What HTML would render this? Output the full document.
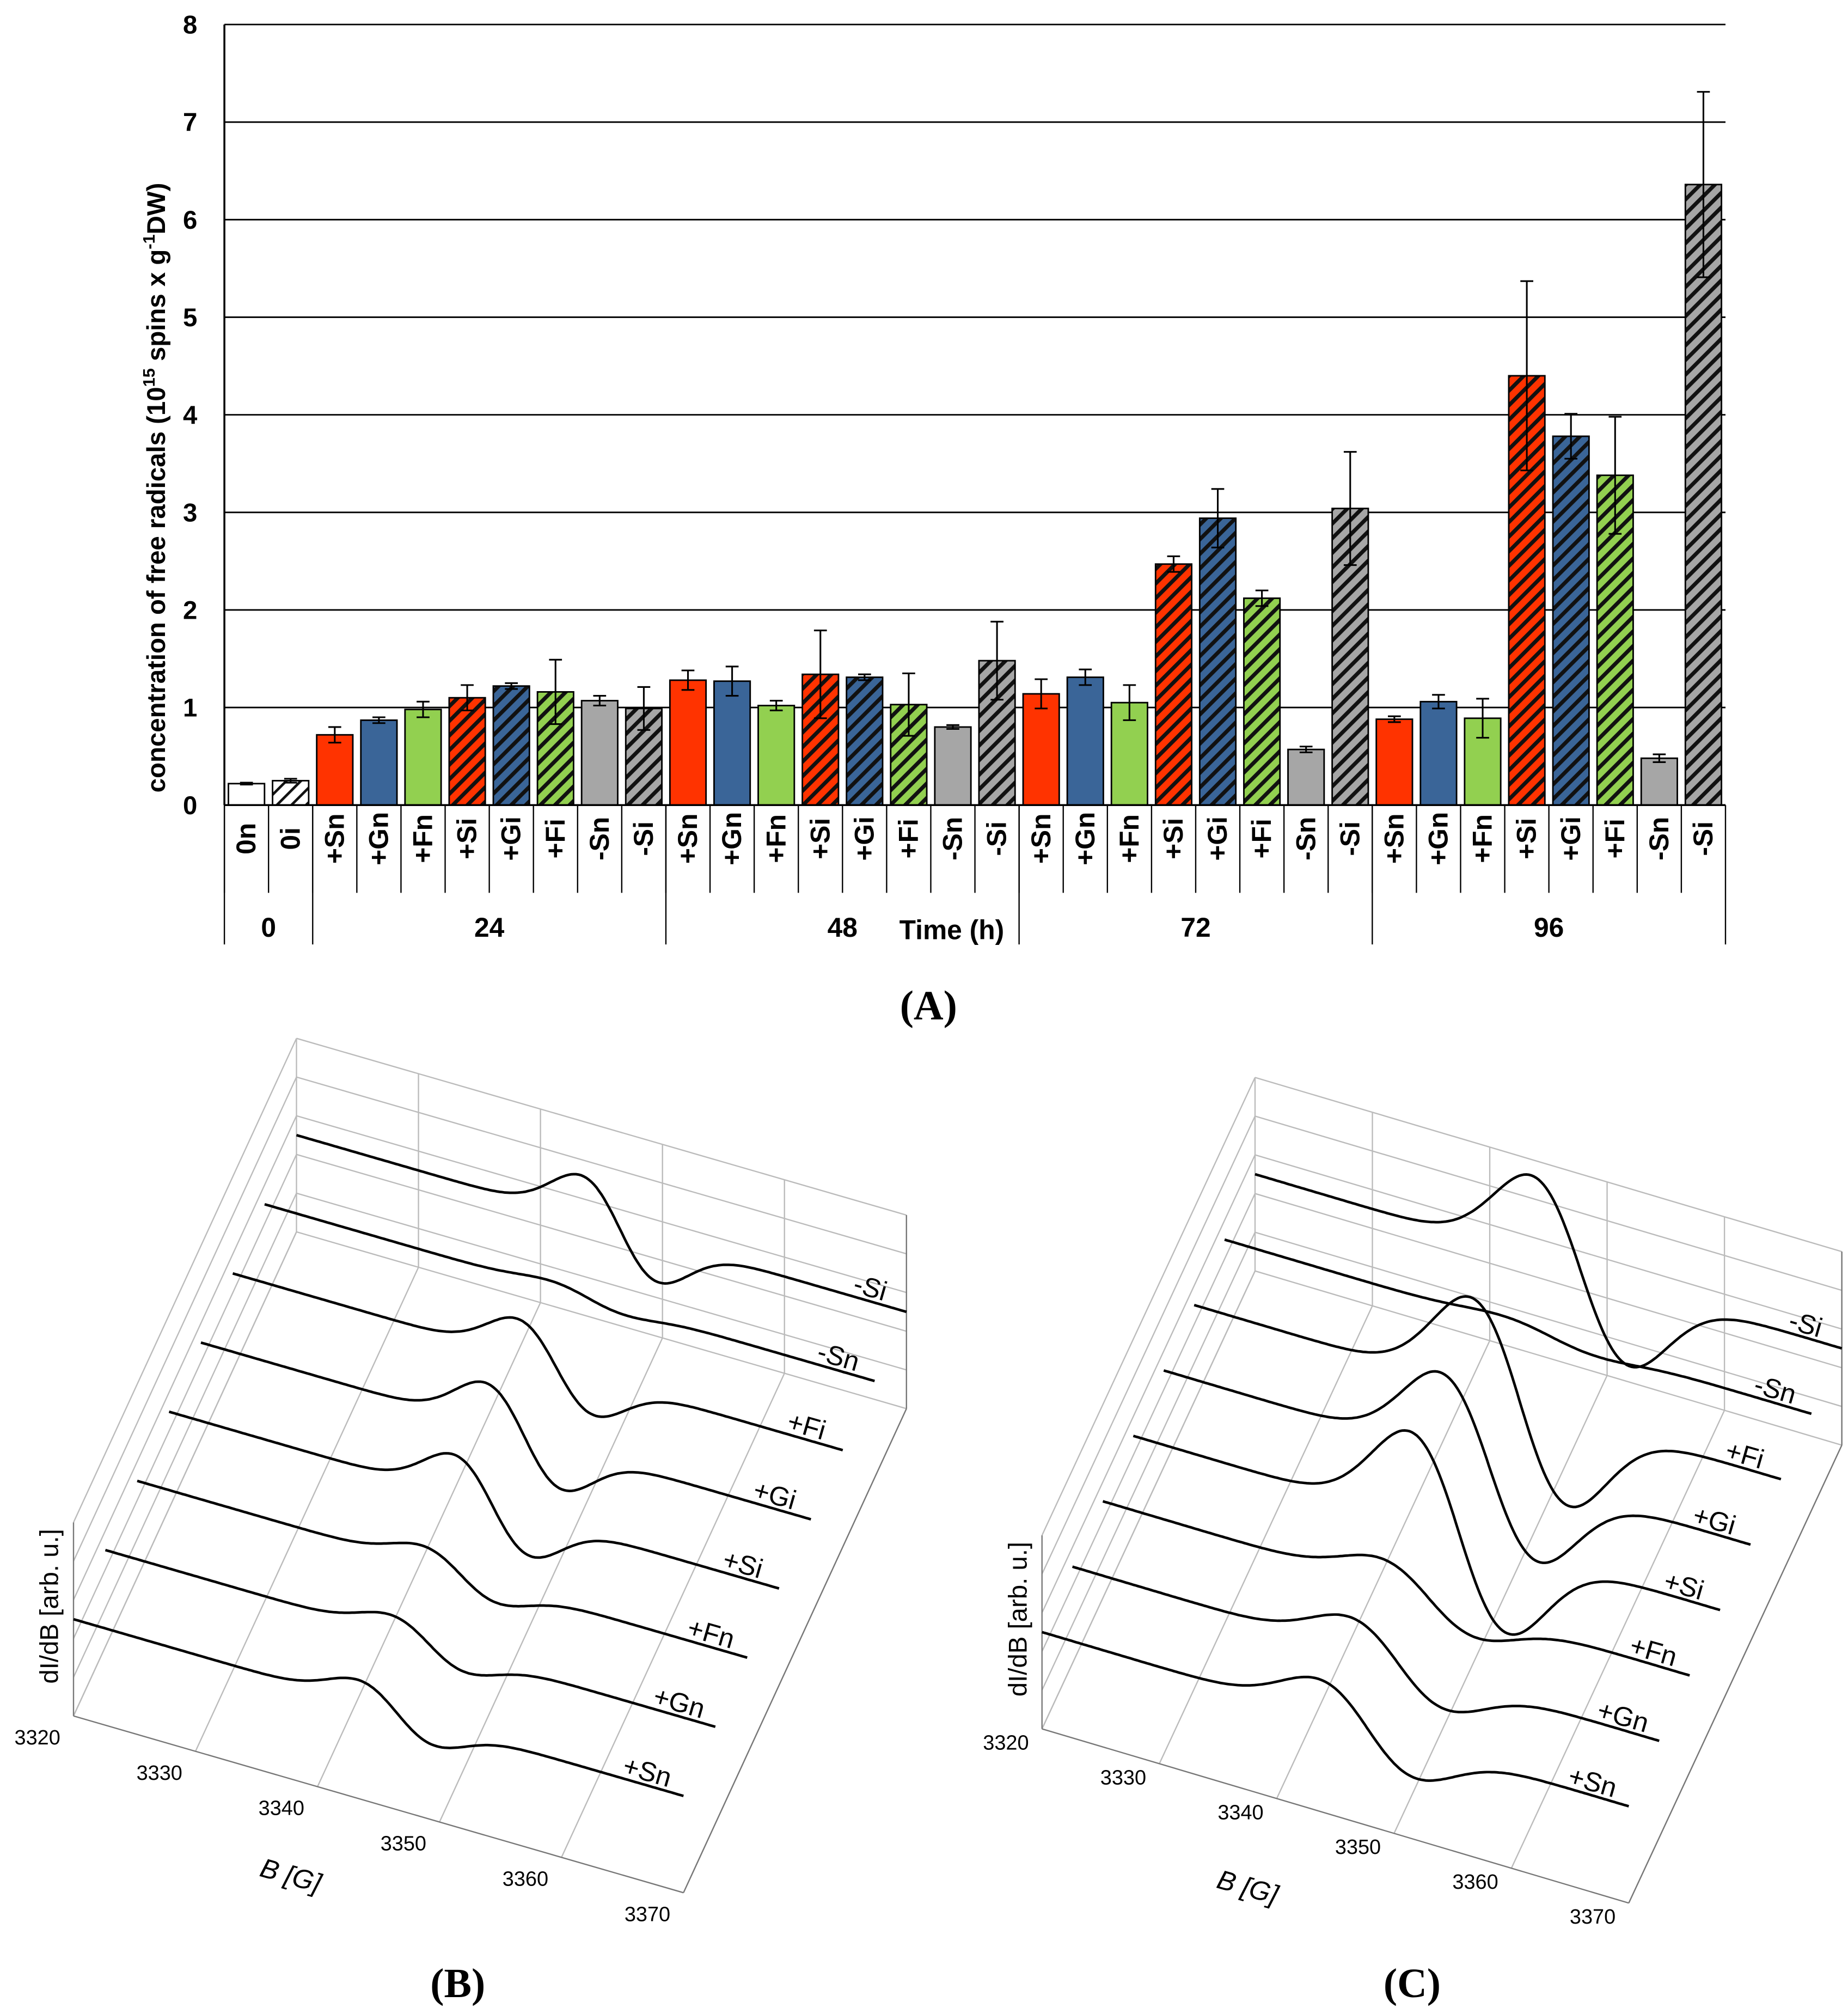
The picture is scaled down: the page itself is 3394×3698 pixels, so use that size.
<!DOCTYPE html>
<html><head><meta charset="utf-8">
<style>
html,body{margin:0;padding:0;background:#fff;}
svg{display:block;}
text{font-family:"Liberation Sans",sans-serif;}
</style></head>
<body>
<svg id="fig" width="3394" height="3698" viewBox="0 0 1433 1561" preserveAspectRatio="none" xmlns="http://www.w3.org/2000/svg">
<defs>
<pattern id="hr" patternUnits="userSpaceOnUse" width="8" height="8" patternTransform="rotate(45)"><rect width="8" height="8" fill="#ff3300"/><rect x="0" width="3" height="8" fill="#111"/></pattern>
<pattern id="hb" patternUnits="userSpaceOnUse" width="8" height="8" patternTransform="rotate(45)"><rect width="8" height="8" fill="#3a6598"/><rect x="0" width="3" height="8" fill="#111"/></pattern>
<pattern id="hg" patternUnits="userSpaceOnUse" width="8" height="8" patternTransform="rotate(45)"><rect width="8" height="8" fill="#92d050"/><rect x="0" width="3" height="8" fill="#111"/></pattern>
<pattern id="hy" patternUnits="userSpaceOnUse" width="8" height="8" patternTransform="rotate(45)"><rect width="8" height="8" fill="#a6a6a6"/><rect x="0" width="3" height="8" fill="#111"/></pattern>
<pattern id="hw" patternUnits="userSpaceOnUse" width="8" height="8" patternTransform="rotate(45)"><rect width="8" height="8" fill="#fff"/><rect x="0" width="2" height="8" fill="#111"/></pattern>
</defs>
<g id="chartA"></g>
<g id="chartB"></g>
<g id="chartC"></g>
<text x="720" y="790" text-anchor="middle" font-size="32" font-weight="bold" style="font-family:'Liberation Serif',serif">(A)</text>
<text x="355" y="1548" text-anchor="middle" font-size="32" font-weight="bold" style="font-family:'Liberation Serif',serif">(B)</text>
<text x="1095" y="1548" text-anchor="middle" font-size="32" font-weight="bold" style="font-family:'Liberation Serif',serif">(C)</text>
</svg>
<script>
// ---- Chart A data ----
const categories = ["0n","0i","+Sn","+Gn","+Fn","+Si","+Gi","+Fi","-Sn","-Si","+Sn","+Gn","+Fn","+Si","+Gi","+Fi","-Sn","-Si","+Sn","+Gn","+Fn","+Si","+Gi","+Fi","-Sn","-Si","+Sn","+Gn","+Fn","+Si","+Gi","+Fi","-Sn","-Si"];
const values = [0.22,0.25, 0.72,0.87,0.98,1.1,1.22,1.16,1.07,0.99, 1.28,1.27,1.02,1.34,1.31,1.03,0.80,1.48, 1.14,1.31,1.05,2.47,2.94,2.12,0.57,3.04, 0.88,1.06,0.89,4.40,3.78,3.38,0.48,6.36];
const errors = [0.01,0.02, 0.08,0.03,0.08,0.13,0.03,0.33,0.05,0.22, 0.10,0.15,0.05,0.45,0.03,0.32,0.02,0.40, 0.15,0.08,0.18,0.08,0.30,0.08,0.03,0.58, 0.03,0.07,0.20,0.97,0.23,0.60,0.04,0.95];
const groupLabels = ["0","24","48","72","96"];
const groupSizes = [2,8,8,8,8];
const yTicks = [0,1,2,3,4,5,6,7,8];
// ---- EPR traces (amplitudes, px) ----
const seriesNames = ["+Sn","+Gn","+Fn","+Si","+Gi","+Fi","-Sn","-Si"];
const ampB = [34,28,28,62,66,58,10,66];
const ampC = [55,50,40,135,125,140,10,126];
const bTicks = [3320,3330,3340,3350,3360,3370];

const NS="http://www.w3.org/2000/svg";
function mk(p,tag,attrs,txt){const e=document.createElementNS(NS,tag);for(const k in attrs)e.setAttribute(k,attrs[k]);if(txt!==undefined)e.textContent=txt;p.appendChild(e);return e;}

// Chart A
const A=document.getElementById('chartA');
const x0=174,x1=1338,yb=624,yt=19;
const ymax=8;
const yS=v=>yb-(yb-yt)*v/ymax;
const slot=(x1-x0)/categories.length;
const xc=i=>x0+slot*(i+0.5);
yTicks.forEach(t=>{
  const l=mk(A,'line',{x1:x0,x2:x1,y1:yS(t),y2:yS(t),stroke:'#000','stroke-width':1.2});
  
  
  const tx=mk(A,'text',{x:153,y:yS(t)+7,'text-anchor':'end','font-size':20,'font-weight':'bold'},t);
  
  
});
mk(A,'line',{x1:x0,x2:x0,y1:yt,y2:yb,stroke:'#000','stroke-width':1.5});
const yl=mk(A,'text',{transform:'translate(128,378) rotate(-90)','text-anchor':'middle','font-size':20,'font-weight':'bold'});


yl.innerHTML='concentration of free radicals (10<tspan dy="-8" font-size="13">15</tspan><tspan dy="8"> spins x g</tspan><tspan dy="-8" font-size="13">-1</tspan><tspan dy="8">DW)</tspan>';
categories.forEach((c,i)=>{
  let fill;
  if(i<2) fill = c.endsWith('i')?'url(#hw)':'#fff';
  else {
    const L=c[1]; fill = c.endsWith('i')?(L==='S'?'url(#hr)':L==='G'?'url(#hb)':'url(#hg)'):(L==='S'?'#ff3300':L==='G'?'#3a6598':'#92d050');
    if(c[0]==='-') fill=c.endsWith('i')?'url(#hy)':'#a6a6a6'; }
  const w=28;
  const r=mk(A,'rect',{x:xc(i)-w/2,y:yS(values[i]),width:w,height:yb-yS(values[i]),fill:fill,stroke:'#000','stroke-width':1.2});
  
  
  const ex=xc(i);
  const e=mk(A,'path',{d:`M${ex},${yS(values[i]+errors[i])}V${yS(values[i]-errors[i])}M${ex-5},${yS(values[i]+errors[i])}H${ex+5}M${ex-5},${yS(values[i]-errors[i])}H${ex+5}`,stroke:'#000','stroke-width':1.3,fill:'none'});
  
  
  const t=mk(A,'text',{transform:`translate(${ex+7},${650}) rotate(-90)`,'text-anchor':'middle','font-size':21,'font-weight':'bold'},c);
  
  
  mk(A,'line',{x1:x0+slot*i,x2:x0+slot*i,y1:yb,y2:692,stroke:'#000','stroke-width':1});
});
mk(A,'line',{x1:x1,x2:x1,y1:yb,y2:732,stroke:'#000','stroke-width':1});
mk(A,'line',{x1:x0,x2:x1,y1:yb,y2:yb,stroke:'#000','stroke-width':1.5});
let acc=0;
groupLabels.forEach((g,k)=>{
  const xs=x0+slot*acc; acc+=groupSizes[k]; const xe=x0+slot*acc;
  mk(A,'line',{x1:xs,x2:xs,y1:yb,y2:732,stroke:'#000','stroke-width':1});
  const t=mk(A,'text',{x:(xs+xe)/2,y:726,'text-anchor':'middle','font-size':21,'font-weight':'bold'},g);
  
  
});
const tl=mk(A,'text',{x:738,y:728,'text-anchor':'middle','font-size':21,'font-weight':'bold'},'Time (h)');



// EPR panels
function panel(G,amps,cfg){
  const {s0,step,dir,wallH,center,width}=cfg;
  const st='#bbb';
  const n=amps.length;
  const back=[s0[0]+step[0]*(n-1)+cfg.bOff[0], s0[1]+step[1]*(n-1)+cfg.bOff[1]];
  const front=[s0[0]+cfg.fOff[0], s0[1]+cfg.fOff[1]];
  const FL=front, BL=back, FR=[FL[0]+dir[0],FL[1]+dir[1]], BR=[BL[0]+dir[0],BL[1]+dir[1]];
  for(let k=0;k<=5;k++){const f=k/5;
    mk(G,'line',{x1:BL[0]+dir[0]*f,y1:BL[1]+dir[1]*f,x2:BL[0]+dir[0]*f,y2:BL[1]+dir[1]*f-wallH,stroke:st,'stroke-width':1});
    mk(G,'line',{x1:FL[0]+dir[0]*f,y1:FL[1]+dir[1]*f,x2:BL[0]+dir[0]*f,y2:BL[1]+dir[1]*f,stroke:st,'stroke-width':1});
  }
  for(let k=0;k<=5;k++){const h=wallH*k/5;
    mk(G,'line',{x1:BL[0],y1:BL[1]-h,x2:BR[0],y2:BR[1]-h,stroke:st,'stroke-width':1});
    mk(G,'line',{x1:BL[0],y1:BL[1]-h,x2:FL[0],y2:FL[1]-h,stroke:st,'stroke-width':1});
  }
  mk(G,'line',{x1:FL[0],y1:FL[1],x2:FL[0],y2:FL[1]-wallH,stroke:'#777','stroke-width':1});
  mk(G,'line',{x1:FR[0],y1:FR[1],x2:BR[0],y2:BR[1],stroke:'#777','stroke-width':1});
  mk(G,'line',{x1:BR[0],y1:BR[1],x2:BR[0],y2:BR[1]-wallH,stroke:'#777','stroke-width':1});
  mk(G,'line',{x1:FL[0],y1:FL[1],x2:FR[0],y2:FR[1],stroke:'#777','stroke-width':1});
  bTicks.forEach((b,k)=>{const f=(b-bTicks[0])/(bTicks[bTicks.length-1]-bTicks[0]);
    const t=mk(G,'text',{x:FL[0]+dir[0]*f-28,y:FL[1]+dir[1]*f+cfg.tickDy,'font-size':16,'text-anchor':'middle'},b);
    
    
  });
  const bt=mk(G,'text',{transform:`translate(${FL[0]+dir[0]*0.5-70},${FL[1]+dir[1]*0.5+62}) rotate(16)`,'font-size':21,'text-anchor':'middle','font-style':'italic'},'B [G]');
  
  
  const yt2=mk(G,'text',{transform:`translate(${FL[0]-12},${FL[1]-wallH/2-10}) rotate(-90)`,'font-size':20,'text-anchor':'middle'},'dI/dB [arb. u.]');
  
  
  for(let s=n-1;s>=0;s--){
    const sx=s0[0]+step[0]*s, sy=s0[1]+step[1]*s;
    let d='';
    for(let j=0;j<=240;j++){const f=j/240;const u=(f-center)/width;
      const v=u*Math.exp(-u*u/2)*0.82*amps[s];
      const px=sx+dir[0]*f, py=sy+dir[1]*f+v;
      d+=(j?'L':'M')+px.toFixed(1)+','+py.toFixed(1);}
    const p=mk(G,'path',{d:d,fill:'none',stroke:'#000','stroke-width':2});
    
    
    const t=mk(G,'text',{transform:`translate(${sx+dir[0]-30},${sy+dir[1]-12}) rotate(16)`,'font-size':21,'text-anchor':'middle'},seriesNames[s]);
    
    
  }
}
const GB=document.getElementById('chartB');
panel(GB,ampB,{s0:[57,1255],step:[24.7,-53.6],dir:[473,137],wallH:150,center:0.53,width:0.065,fOff:[0,75],bOff:[0,75],tickDy:22});
const GC=document.getElementById('chartC');
panel(GC,ampC,{s0:[808,1265],step:[23.6,-50.7],dir:[455,135],wallH:150,center:0.555,width:0.085,fOff:[0,75],bOff:[0,75],tickDy:16});
</script>
</body></html>
